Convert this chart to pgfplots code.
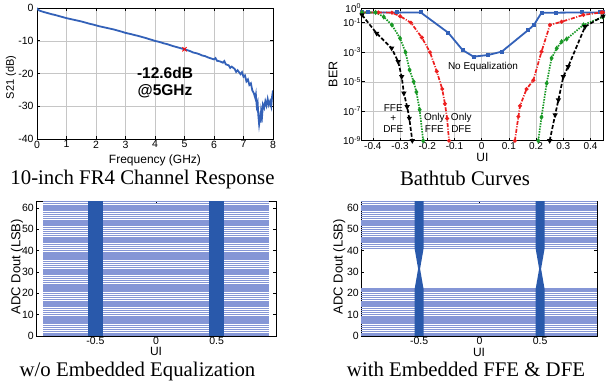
\documentclass[border=0pt]{standalone}
\usepackage{fontspec}
\setmainfont{Liberation Sans}
\newfontfamily\capfont{Liberation Serif}
\usepackage{pgfplots}
\pgfplotsset{compat=1.18}
\definecolor{lineblue}{rgb}{0.20,0.38,0.72}
\definecolor{bandblue}{rgb}{0.16,0.35,0.67}
\definecolor{eyeline}{rgb}{0.52,0.59,0.84}
\definecolor{berred}{rgb}{0.93,0.12,0.12}
\definecolor{bergreen}{rgb}{0.10,0.60,0.15}
\pgfplotsset{mystyle/.style={
  scale only axis,
  /pgf/number format/assume math mode=true,
  axis line style={black,line width=0.7bp},
  tick style={black,line width=0.6bp},
  major tick length=3bp,
  tick align=inside,
  tick label style={font=\fontsize{10.5bp}{12bp}\selectfont},
  label style={font=\fontsize{12bp}{14bp}\selectfont},
  unbounded coords=jump,
}}
\begin{document}
\begin{tikzpicture}
\useasboundingbox (0,0) rectangle (607bp,383bp);
% ---------------- Channel response
\begin{axis}[mystyle, at={(37bp,244bp)}, anchor=south west,
  width=236bp, height=131bp,
  xmin=0, xmax=8, ymin=-40, ymax=0,
  xtick={0,1,2,3,4,5,6,7,8}, ytick={-40,-30,-20,-10,0},
  grid=major, grid style={gray!45,line width=0.4bp},
  xlabel={Frequency (GHz)}, ylabel={S21 (dB)},
  xlabel style={at={(axis description cs:0.5,-0.16)},anchor=center},
  ylabel style={at={(axis description cs:-0.11,0.47)},anchor=center,font=\fontsize{11bp}{13bp}\selectfont},
  xticklabel style={inner ysep=1.5bp},
]
\addplot[lineblue, line width=1.8bp] coordinates {
(0,0) (0.02,-0.35) (0.05,-0.6) (0.1,-0.85) (0.2,-1.15) (0.3,-1.4) (0.4,-1.65) (0.5,-1.9)
(0.6,-2.1) (0.7,-2.35) (0.8,-2.6) (0.9,-2.85) (1.0,-3.1) (1.1,-3.3) (1.2,-3.5) (1.3,-3.7)
(1.4,-3.9) (1.5,-4.1) (1.6,-4.35) (1.7,-4.6) (1.8,-4.85) (1.9,-5.05) (2.0,-5.3) (2.1,-5.55)
(2.2,-5.75) (2.3,-5.95) (2.4,-6.15) (2.5,-6.35) (2.6,-6.55) (2.7,-6.8) (2.8,-7.05) (2.9,-7.3)
(3.0,-7.6) (3.1,-7.8) (3.2,-8.0) (3.3,-8.25) (3.4,-8.45) (3.5,-8.7) (3.6,-8.95) (3.7,-9.2)
(3.8,-9.5) (3.9,-9.75) (4.0,-10.05) (4.1,-10.25) (4.2,-10.5) (4.3,-10.8) (4.4,-11.0) (4.5,-11.3)
(4.6,-11.6) (4.7,-11.85) (4.8,-12.1) (4.9,-12.35) (5.0,-12.6) (5.1,-12.9) (5.2,-13.2) (5.3,-13.6)
(5.4,-13.8) (5.5,-14.1) (5.6,-14.5) (5.7,-14.7) (5.8,-15.1) (5.9,-15.4) (6.0,-15.7) (6.05,-15.3)
(6.1,-16.1) (6.2,-16.3) (6.3,-16.7) (6.35,-16.2) (6.4,-17.2) (6.5,-17.5) (6.55,-18.3) (6.6,-17.9)
(6.7,-18.6) (6.75,-19.5) (6.8,-19.0) (6.9,-20.2) (6.95,-19.6) (7.0,-21.0) (7.05,-20.6) (7.1,-22.4)
(7.15,-21.8) (7.2,-23.5) (7.25,-23.0) (7.3,-25.2) (7.35,-26.0) (7.4,-27.5) (7.42,-26.5) (7.45,-30.0)
(7.48,-29) (7.5,-32.5) (7.53,-35.5) (7.56,-33.5) (7.58,-35) (7.6,-31.5) (7.63,-33) (7.66,-29.5)
(7.7,-30.5) (7.74,-28.5) (7.78,-29.8) (7.82,-27.8) (7.86,-29.6) (7.9,-28.5) (7.94,-30) (7.97,-27)
(8.0,-25.2)};
\addplot[red, only marks, mark=x, mark size=3bp, line width=0.9bp] coordinates {(5,-12.6)};
\node[font=\bfseries\fontsize{15.5bp}{18bp}\selectfont] at (axis cs:4.34,-19.8) {-12.6dB};
\node[font=\bfseries\fontsize{15.5bp}{18bp}\selectfont] at (axis cs:4.34,-25.4) {@5GHz};
\end{axis}
% ---------------- Bathtub
\begin{axis}[mystyle, at={(361.7bp,242.3bp)}, anchor=south west,
  width=241.3bp, height=132.7bp,
  ymode=log, yminorticks=false,
  xmin=-0.441, xmax=0.446, ymin=1e-9, ymax=1,
  xtick={-0.4,-0.3,-0.2,-0.1,0,0.1,0.2,0.3,0.4},
  ytick={1,1e-1,1e-3,1e-5,1e-7,1e-9},
  yticklabels={10\textsuperscript{0},10\textsuperscript{-1},10\textsuperscript{-3},10\textsuperscript{-5},10\textsuperscript{-7},10\textsuperscript{-9}},
  grid=major, grid style={gray!45,line width=0.4bp},
  xlabel={UI}, ylabel={BER},
  xlabel style={at={(axis description cs:0.5,-0.125)},anchor=center},
  ylabel style={at={(axis description cs:-0.119,0.5)},anchor=center,font=\fontsize{12.5bp}{14bp}\selectfont},
  yticklabel style={inner xsep=0.5bp, font=\fontsize{10bp}{12bp}\selectfont},
  xticklabel style={font=\fontsize{10bp}{12bp}\selectfont, inner ysep=2bp},
]
\addplot[lineblue, line width=1.8bp, mark=square*, mark size=1.1bp] coordinates {
(-0.44,0.5) (-0.417,0.5) (-0.312,0.5) (-0.224,0.5) (-0.123,0.021) (-0.07,1.4e-3) (-0.03,5e-4)
(0.024,6.5e-4) (0.074,1.1e-3) (0.171,0.032) (0.192,0.07) (0.22,0.48) (0.273,0.48) (0.368,0.5)
(0.435,0.5) (0.446,0.5)};
% Only DFE
\addplot[berred, line width=1.7bp, dash pattern=on 4bp off 1.5bp on 1bp off 1.5bp, mark=*, mark size=1bp, mark options={solid}] coordinates {
(-0.44,0.5) (-0.38,0.5) (-0.33,0.48) (-0.3,0.28) (-0.26,0.1) (-0.22,0.01) (-0.19,1e-3) (-0.165,5e-5)
(-0.145,3.2e-6) (-0.135,3.2e-7) (-0.127,3.2e-8) (-0.12,1e-9)};
\addplot[berred, line width=1.7bp, dash pattern=on 4bp off 1.5bp on 1bp off 1.5bp, mark=*, mark size=1bp, mark options={solid}] coordinates {
(0.122,1e-9) (0.135,4.3e-8) (0.141,2.3e-7) (0.165,3.2e-6) (0.19,1.26e-5) (0.22,1.1e-3) (0.251,0.071)
(0.294,0.117) (0.374,0.34) (0.44,0.5) (0.446,0.5)};
% Only FFE
\addplot[bergreen, line width=1.7bp, dash pattern=on 1.5bp off 1.2bp, mark=diamond*, mark size=1.3bp, mark options={solid}] coordinates {
(-0.44,0.5) (-0.39,0.5) (-0.36,0.25) (-0.33,0.071) (-0.3,8.9e-3) (-0.28,1e-3) (-0.265,6.3e-5)
(-0.25,1e-5) (-0.24,2e-6) (-0.228,1.26e-7) (-0.215,1e-9)};
\addplot[bergreen, line width=1.7bp, dash pattern=on 1.5bp off 1.2bp, mark=diamond*, mark size=1.3bp, mark options={solid}] coordinates {
(0.208,1e-9) (0.22,4e-8) (0.239,7.9e-6) (0.257,4e-4) (0.276,1.86e-3) (0.294,5.2e-3) (0.3125,7.9e-3)
(0.374,0.071) (0.446,0.25)};
% FFE + DFE
\addplot[black, line width=1.7bp, dash pattern=on 4bp off 2bp, mark=triangle*, mark size=1.4bp, mark options={solid,rotate=180}] coordinates {
(-0.44,0.34) (-0.386,0.019) (-0.331,1.86e-3) (-0.307,2.3e-4) (-0.294,2.2e-5) (-0.286,1.66e-6)
(-0.274,2e-7) (-0.266,3.3e-8) (-0.255,1e-9)};
\addplot[black, line width=1.7bp, dash pattern=on 4bp off 2bp, mark=triangle*, mark size=1.4bp, mark options={solid,rotate=180}] coordinates {
(0.25,1e-9) (0.27,5.6e-8) (0.282,5.8e-7) (0.3,2.2e-5) (0.318,1.05e-4) (0.38,0.054) (0.446,0.28)};
\node[font=\fontsize{10bp}{12bp}\selectfont] at (axis cs:0.005,1e-4) {No Equalization};
\node[font=\fontsize{10bp}{12bp}\selectfont] at (axis cs:-0.325,1.6e-7) {FFE};
\node[font=\fontsize{10bp}{12bp}\selectfont] at (axis cs:-0.325,3.3e-8) {+};
\node[font=\fontsize{10bp}{12bp}\selectfont] at (axis cs:-0.325,6.3e-9) {DFE};
\node[font=\fontsize{10bp}{12bp}\selectfont] at (axis cs:-0.174,3.3e-8) {Only};
\node[font=\fontsize{10bp}{12bp}\selectfont] at (axis cs:-0.174,6.3e-9) {FFE};
\node[font=\fontsize{10bp}{12bp}\selectfont] at (axis cs:-0.075,3.3e-8) {Only};
\node[font=\fontsize{10bp}{12bp}\selectfont] at (axis cs:-0.075,6.3e-9) {DFE};
\end{axis}
% ---------------- Eye without equalization
\begin{axis}[mystyle, at={(36bp,47bp)}, anchor=south west,
  width=240bp, height=135bp,
  xmin=-0.99, xmax=0.99, ymin=0, ymax=63.3,
  xtick={-0.5,0,0.5}, ytick={0,10,20,30,40,50,60},
  xlabel={UI}, ylabel={ADC Dout (LSB)},
  xlabel style={at={(axis description cs:0.5,-0.118)},anchor=center},
  ylabel style={at={(axis description cs:-0.079,0.513)},anchor=center,font=\fontsize{13bp}{15bp}\selectfont},
  xticklabel style={inner ysep=1bp},
  yticklabel style={inner xsep=2bp},
]
\addplot[eyeline, line width=1.45bp] coordinates {
(-0.93,0)(0.93,0)(nan,nan)(-0.93,1)(0.93,1)(nan,nan)(-0.93,2)(0.93,2)(nan,nan)(-0.93,3)(0.93,3)(nan,nan)
(-0.93,4)(0.93,4)(nan,nan)(-0.93,5)(0.93,5)(nan,nan)(-0.93,6)(0.93,6)(nan,nan)(-0.93,7)(0.93,7)(nan,nan)
(-0.93,8)(0.93,8)(nan,nan)(-0.93,9)(0.93,9)(nan,nan)(-0.93,10)(0.93,10)(nan,nan)(-0.93,11)(0.93,11)(nan,nan)
(-0.93,12)(0.93,12)(nan,nan)(-0.93,13)(0.93,13)(nan,nan)(-0.93,14)(0.93,14)(nan,nan)(-0.93,15)(0.93,15)(nan,nan)
(-0.93,16)(0.93,16)(nan,nan)(-0.93,17)(0.93,17)(nan,nan)(-0.93,18)(0.93,18)(nan,nan)(-0.93,19)(0.93,19)(nan,nan)
(-0.93,20)(0.93,20)(nan,nan)(-0.93,21)(0.93,21)(nan,nan)(-0.93,22)(0.93,22)(nan,nan)(-0.93,23)(0.93,23)(nan,nan)
(-0.93,24)(0.93,24)(nan,nan)(-0.93,25)(0.93,25)(nan,nan)(-0.93,26)(0.93,26)(nan,nan)(-0.93,27)(0.93,27)(nan,nan)
(-0.93,28)(0.93,28)(nan,nan)(-0.93,29)(0.93,29)(nan,nan)(-0.93,30)(0.93,30)(nan,nan)(-0.93,31)(0.93,31)(nan,nan)
(-0.93,32)(0.93,32)(nan,nan)(-0.93,33)(0.93,33)(nan,nan)(-0.93,34)(0.93,34)(nan,nan)(-0.93,35)(0.93,35)(nan,nan)
(-0.93,36)(0.93,36)(nan,nan)(-0.93,37)(0.93,37)(nan,nan)(-0.93,38)(0.93,38)(nan,nan)(-0.93,39)(0.93,39)(nan,nan)
(-0.93,40)(0.93,40)(nan,nan)(-0.93,41)(0.93,41)(nan,nan)(-0.93,42)(0.93,42)(nan,nan)(-0.93,43)(0.93,43)(nan,nan)
(-0.93,44)(0.93,44)(nan,nan)(-0.93,45)(0.93,45)(nan,nan)(-0.93,46)(0.93,46)(nan,nan)(-0.93,47)(0.93,47)(nan,nan)
(-0.93,48)(0.93,48)(nan,nan)(-0.93,49)(0.93,49)(nan,nan)(-0.93,50)(0.93,50)(nan,nan)(-0.93,51)(0.93,51)(nan,nan)
(-0.93,52)(0.93,52)(nan,nan)(-0.93,53)(0.93,53)(nan,nan)(-0.93,54)(0.93,54)(nan,nan)(-0.93,55)(0.93,55)(nan,nan)
(-0.93,56)(0.93,56)(nan,nan)(-0.93,57)(0.93,57)(nan,nan)(-0.93,58)(0.93,58)(nan,nan)(-0.93,59)(0.93,59)(nan,nan)
(-0.93,60)(0.93,60)(nan,nan)(-0.93,61)(0.93,61)(nan,nan)(-0.93,62)(0.93,62)(nan,nan)(-0.93,63)(0.93,63)};
\addplot[fill=bandblue, draw=none] coordinates {(-0.565,0) (-0.435,0) (-0.435,63.3) (-0.565,63.3)} -- cycle;
\addplot[fill=bandblue, draw=none] coordinates {(0.435,0) (0.565,0) (0.565,63.3) (0.435,63.3)} -- cycle;
\end{axis}
% ---------------- Eye with FFE & DFE
\begin{axis}[mystyle, at={(361bp,47bp)}, anchor=south west,
  width=236bp, height=135bp,
  xmin=-0.98, xmax=0.97, ymin=0, ymax=63.3,
  xtick={-0.5,0,0.5}, ytick={0,10,20,30,40,50,60},
  xlabel={UI}, ylabel={ADC Dout (LSB)},
  xlabel style={at={(axis description cs:0.5,-0.12)},anchor=center},
  ylabel style={at={(axis description cs:-0.092,0.513)},anchor=center,font=\fontsize{13bp}{15bp}\selectfont},
  xticklabel style={inner ysep=1bp},
  yticklabel style={inner xsep=2bp},
]
\addplot[eyeline, line width=1.45bp] coordinates {
(-0.98,0)(0.97,0)(nan,nan)(-0.98,1)(0.97,1)(nan,nan)(-0.98,2)(0.97,2)(nan,nan)(-0.98,3)(0.97,3)(nan,nan)
(-0.98,4)(0.97,4)(nan,nan)(-0.98,5)(0.97,5)(nan,nan)(-0.98,6)(0.97,6)(nan,nan)(-0.98,7)(0.97,7)(nan,nan)
(-0.98,8)(0.97,8)(nan,nan)(-0.98,9)(0.97,9)(nan,nan)(-0.98,10)(0.97,10)(nan,nan)(-0.98,11)(0.97,11)(nan,nan)
(-0.98,12)(0.97,12)(nan,nan)(-0.98,13)(0.97,13)(nan,nan)(-0.98,14)(0.97,14)(nan,nan)(-0.98,15)(0.97,15)(nan,nan)
(-0.98,16)(0.97,16)(nan,nan)(-0.98,17)(0.97,17)(nan,nan)(-0.98,18)(0.97,18)(nan,nan)(-0.98,19)(0.97,19)(nan,nan)
(-0.98,20)(0.97,20)(nan,nan)(-0.98,21)(0.97,21)(nan,nan)(-0.98,22)(0.97,22)(nan,nan)
(-0.98,41)(0.97,41)(nan,nan)(-0.98,42)(0.97,42)(nan,nan)(-0.98,43)(0.97,43)(nan,nan)
(-0.98,44)(0.97,44)(nan,nan)(-0.98,45)(0.97,45)(nan,nan)(-0.98,46)(0.97,46)(nan,nan)(-0.98,47)(0.97,47)(nan,nan)
(-0.98,48)(0.97,48)(nan,nan)(-0.98,49)(0.97,49)(nan,nan)(-0.98,50)(0.97,50)(nan,nan)(-0.98,51)(0.97,51)(nan,nan)
(-0.98,52)(0.97,52)(nan,nan)(-0.98,53)(0.97,53)(nan,nan)(-0.98,54)(0.97,54)(nan,nan)(-0.98,55)(0.97,55)(nan,nan)
(-0.98,56)(0.97,56)(nan,nan)(-0.98,57)(0.97,57)(nan,nan)(-0.98,58)(0.97,58)(nan,nan)(-0.98,59)(0.97,59)(nan,nan)
(-0.98,60)(0.97,60)(nan,nan)(-0.98,61)(0.97,61)(nan,nan)(-0.98,62)(0.97,62)(nan,nan)(-0.98,63)(0.97,63)};
\addplot[fill=bandblue, draw=none] coordinates {(-0.537,0) (-0.463,0) (-0.463,22) (-0.492,31.5) (-0.463,41) (-0.463,63.3) (-0.537,63.3) (-0.537,41) (-0.508,31.5) (-0.537,22)} -- cycle;
\addplot[fill=bandblue, draw=none] coordinates {(0.463,0) (0.537,0) (0.537,22) (0.508,31.5) (0.537,41) (0.537,63.3) (0.463,63.3) (0.463,41) (0.492,31.5) (0.463,22)} -- cycle;
\end{axis}
% ---------------- captions
\node[font=\capfont\fontsize{20.8bp}{24bp}\selectfont, anchor=base] at (142.5bp,198.3bp) {10-inch FR4 Channel Response};
\node[font=\capfont\fontsize{20.8bp}{24bp}\selectfont, anchor=base] at (465bp,197.5bp) {Bathtub Curves};
\node[font=\capfont\fontsize{20.8bp}{24bp}\selectfont, anchor=base] at (137.5bp,6.2bp) {w/o Embedded Equalization};
\node[font=\capfont\fontsize{20.8bp}{24bp}\selectfont, anchor=base] at (466bp,6.2bp) {with Embedded FFE \& DFE};
\end{tikzpicture}
\end{document}
